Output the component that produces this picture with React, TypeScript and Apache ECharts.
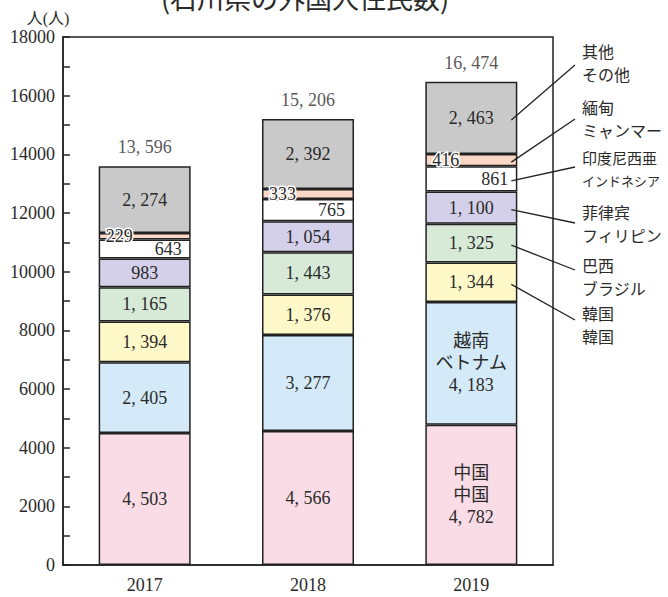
import React, { useEffect, useRef } from "react";
import * as echarts from "echarts";

const years = ["2017", "2018", "2019"];
const seriesNames = ["中国", "ベトナム", "韓国", "ブラジル", "フィリピン", "インドネシア", "ミャンマー", "その他"];
const china = [4503, 4566, 4782];
const vietnam = [2405, 3277, 4183];
const korea = [1394, 1376, 1344];
const brazil = [1165, 1443, 1325];
const philippines = [983, 1054, 1100];
const indonesia = [643, 765, 861];
const myanmar = [229, 333, 416];
const others = [2274, 2392, 2463];
const totals = [13596, 15206, 16474];
const seriesValues = [china, vietnam, korea, brazil, philippines, indonesia, myanmar, others];

// names written inside the 2019 bar
const inlineNames: Record<string, string> = { 中国: "中国\n中国", ベトナム: "越南\nベトナム" };
// callouts on the right (series index, chinese name, japanese name)
const calloutSeries = [7, 6, 5, 4, 3, 2];
const calloutTop = ["其他", "緬甸", "印度尼西亜", "菲律宾", "巴西", "韓国"];
const calloutBottom = ["その他", "ミャンマー", "インドネシア", "フィリピン", "ブラジル", "韓国"];

const title = "(石川県の外国人住民数)";
const unit = "人(人)";

const colors = ["#f9dce6", "#d4eaf8", "#fff9c9", "#d6ead7", "#d4d0e9", "#ffffff", "#fbd7c5", "#c9c9c9"];
const FONT = "'Liberation Serif', 'Noto Sans CJK JP', serif";
const CJK = "'Noto Sans CJK JP', sans-serif";
const fmt = (v: number) => v.toLocaleString("en-US").replace(/,/g, ", ");

export default function App() {
  const ref = useRef<HTMLDivElement>(null);
  useEffect(() => {
    document.body.style.margin = "0";
    if (!ref.current) return;
    const chart = echarts.init(ref.current, undefined, { renderer: "svg" });
    const barWidth = 92;
    const series: any[] = seriesValues.map((vals, si) => {
      const name = seriesNames[si];
      let label: any = {
        show: true,
        position: "inside",
        fontFamily: FONT,
        fontSize: 18,
        color: "#2a2a2a",
        lineHeight: 22,
        formatter: (p: any) => {
          const t = fmt(p.value);
          if (p.dataIndex === years.length - 1 && inlineNames[name]) return inlineNames[name] + "\n" + t;
          return t;
        },
      };
      if (name === "インドネシア") label = { ...label, position: "insideRight", distance: 9 };
      if (name === "ミャンマー")
        label = { ...label, position: "insideLeft", distance: 7, textBorderColor: "#fff", textBorderWidth: 3 };
      return {
        type: "bar",
        name,
        stack: "total",
        barWidth,
        data: vals,
        itemStyle: { color: colors[si], borderColor: "#222", borderWidth: 1.5 },
        label,
        emphasis: { disabled: true },
      };
    });
    series.push({
      type: "scatter",
      name: "合計",
      data: totals,
      symbolSize: 0,
      z: 10,
      label: {
        show: true,
        position: "top",
        distance: 10,
        fontFamily: FONT,
        fontSize: 18,
        color: "#2a2a2a",
        formatter: (p: any) => fmt(p.value),
      },
    });

    const option: any = {
      animation: false,
      textStyle: { fontFamily: FONT },
      grid: { left: 63, right: 115, top: 37, bottom: 32, show: true, borderColor: "#222", borderWidth: 1.5 },
      xAxis: {
        type: "category",
        data: years,
        axisTick: { show: false },
        axisLine: { lineStyle: { color: "#222", width: 1.5 } },
        axisLabel: { fontFamily: FONT, fontSize: 18, color: "#2a2a2a", margin: 11 },
      },
      yAxis: {
        type: "value",
        min: 0,
        max: 18000,
        interval: 2000,
        splitLine: { show: false },
        axisLine: { show: true, lineStyle: { color: "#222", width: 1.5 } },
        axisTick: { show: true, inside: true, length: 7, lineStyle: { color: "#222", width: 1.5 } },
        minorTick: { show: true, splitNumber: 2, length: 7, lineStyle: { color: "#222", width: 1.5 } },
        axisLabel: { fontFamily: FONT, fontSize: 18, color: "#2a2a2a", margin: 8, formatter: (v: number) => String(v) },
      },
      series,
    };
    chart.setOption(option);

    // callout lines computed from the axis scales
    const last = years.length - 1;
    const graphics: any[] = [
      {
        type: "text",
        x: 305,
        y: 11,
        style: { text: title, fontFamily: CJK, fontSize: 27, fill: "#2a2a2a", align: "center", verticalAlign: "bottom" },
      },
      {
        type: "text",
        x: 48,
        y: 18,
        style: { text: unit, fontFamily: FONT, fontSize: 16, fill: "#2a2a2a", align: "center", verticalAlign: "middle" },
      },
    ];
    const endY = [65, 119, 167, 223, 270, 320];
    const textY = [51, 107, 157, 212, 265, 313];
    calloutSeries.forEach((si, k) => {
      let base = 0;
      for (let j = 0; j < si; j++) base += seriesValues[j][last];
      const mid = base + seriesValues[si][last] / 2;
      const pt = chart.convertToPixel({ gridIndex: 0 }, [years[last], mid]) as number[];
      const x0 = pt[0] + barWidth / 2 - 6;
      graphics.push({
        type: "line",
        shape: { x1: x0, y1: pt[1] + 2, x2: 575, y2: endY[k] },
        style: { stroke: "#222", lineWidth: 1.3 },
        z: 20,
      });
      const small = calloutBottom[k].length >= 6;
      graphics.push({
        type: "text",
        x: 582,
        y: textY[k],
        style: { text: calloutTop[k], fontFamily: CJK, fontSize: calloutTop[k].length >= 5 ? 15 : 16, fill: "#2a2a2a", verticalAlign: "middle" },
      });
      graphics.push({
        type: "text",
        x: 582,
        y: textY[k] + 23,
        style: { text: calloutBottom[k], fontFamily: CJK, fontSize: small ? 13 : 16, fill: "#2a2a2a", verticalAlign: "middle" },
      });
    });
    chart.setOption({ graphic: graphics });

    return () => chart.dispose();
  }, []);
  return <div ref={ref} style={{ width: 668, height: 597 }} />;
}
